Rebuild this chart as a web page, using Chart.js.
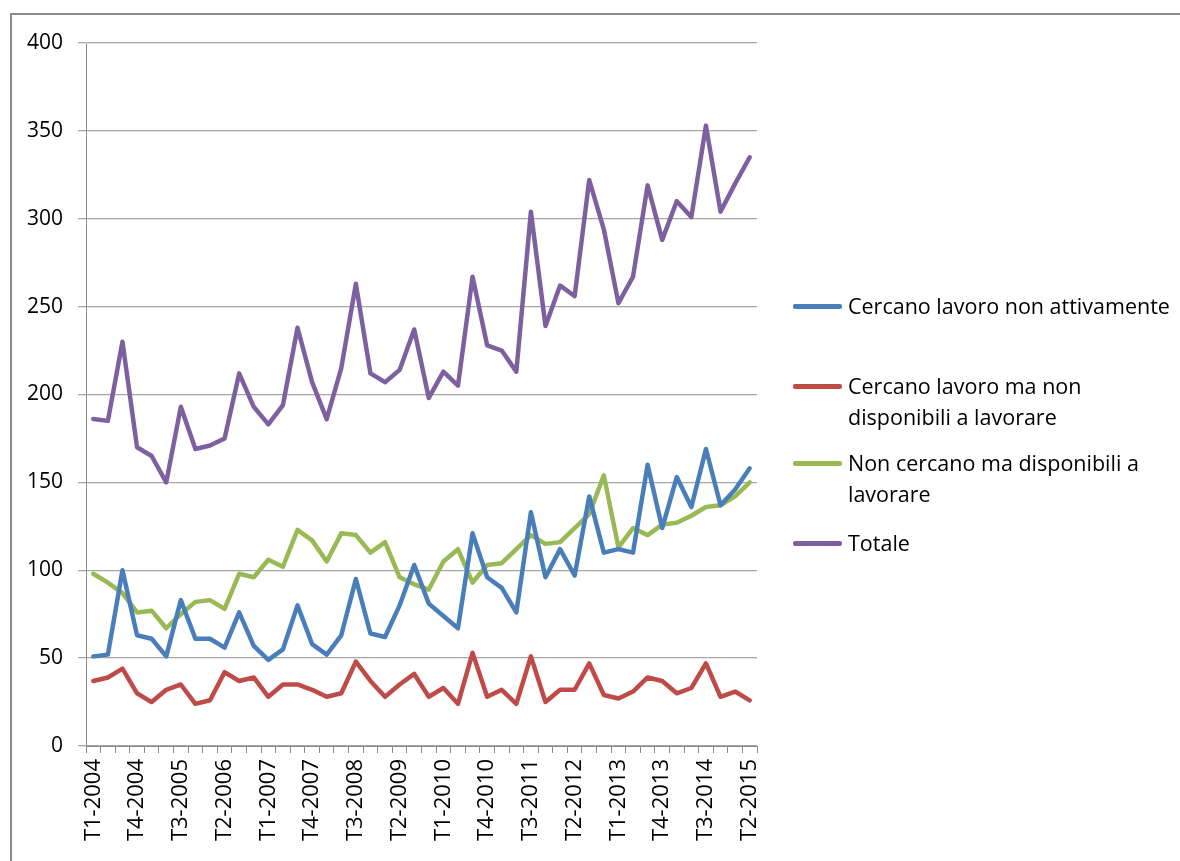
<!DOCTYPE html>
<html lang="it">
<head>
<meta charset="utf-8">
<title>Inattivi disponibili</title>
<script src="https://cdn.jsdelivr.net/npm/chart.js@4.4.1/dist/chart.umd.min.js"></script>
<style>
  html, body { margin: 0; padding: 0; background: #fff; overflow: hidden; }
  body { width: 1180px; height: 861px; position: relative; font-family: 'Open Sans', sans-serif; }
  .frame { position: absolute; left: 10px; top: 13px; width: 1200px; height: 900px; border: 2px solid #8c8c8c; box-sizing: border-box; }
  .chart-box { position: absolute; left: 0; top: 0; width: 1180px; height: 861px; }
  .legend { position: absolute; left: 793px; top: 0; }
  .legend-item { position: absolute; left: 0; width: 385px; }
  .legend-item .swatch { position: absolute; left: 0; top: 13px; width: 49px; height: 4.5px; border-radius: 2px; }
  .legend-item .text { position: absolute; left: 55px; top: 0; font-size: 21.5px; line-height: 30.5px; color: #000; white-space: nowrap; }
</style>
</head>
<body>
<div class="frame"></div>
<div class="chart-box"><canvas id="myChart" width="1180" height="861"></canvas></div>
<div class="legend" id="legend"></div>
<script>
// quarters T1-2004 .. T2-2015
const quarters = [
  'T1-2004','T2-2004','T3-2004','T4-2004',
  'T1-2005','T2-2005','T3-2005','T4-2005',
  'T1-2006','T2-2006','T3-2006','T4-2006',
  'T1-2007','T2-2007','T3-2007','T4-2007',
  'T1-2008','T2-2008','T3-2008','T4-2008',
  'T1-2009','T2-2009','T3-2009','T4-2009',
  'T1-2010','T2-2010','T3-2010','T4-2010',
  'T1-2011','T2-2011','T3-2011','T4-2011',
  'T1-2012','T2-2012','T3-2012','T4-2012',
  'T1-2013','T2-2013','T3-2013','T4-2013',
  'T1-2014','T2-2014','T3-2014','T4-2014',
  'T1-2015','T2-2015'
];

const seriesNames = [
  ['Cercano lavoro non attivamente'],
  ['Cercano lavoro ma non', 'disponibili a lavorare'],
  ['Non cercano ma disponibili a', 'lavorare'],
  ['Totale']
];

const nonAttivamente = [
  51, 52, 100, 63, 61, 51, 83, 61, 61, 56, 76, 57,
  49, 55, 80, 58, 52, 63, 95, 64, 62, 80, 103, 81,
  74, 67, 121, 96, 90, 76, 133, 96, 112, 97, 142, 110,
  112, 110, 160, 124, 153, 136, 169, 137, 146, 158
];

const nonDisponibili = [
  37, 39, 44, 30, 25, 32, 35, 24, 26, 42, 37, 39,
  28, 35, 35, 32, 28, 30, 48, 37, 28, 35, 41, 28,
  33, 24, 53, 28, 32, 24, 51, 25, 32, 32, 47, 29,
  27, 31, 39, 37, 30, 33, 47, 28, 31, 26
];

const nonCercano = [
  98, 93, 87, 76, 77, 67, 75, 82, 83, 78, 98, 96,
  106, 102, 123, 117, 105, 121, 120, 110, 116, 96, 92, 89,
  105, 112, 93, 103, 104, 112, 120, 115, 116, 124, 132, 154,
  113, 124, 120, 126, 127, 131, 136, 137, 142, 150
];

const totale = [
  186, 185, 230, 170, 165, 150, 193, 169, 171, 175, 212, 193,
  183, 194, 238, 207, 186, 215, 263, 212, 207, 214, 237, 198,
  213, 205, 267, 228, 225, 213, 304, 239, 262, 256, 322, 294,
  252, 267, 319, 288, 310, 301, 353, 304, 320, 335
];

const yTicks = [0, 50, 100, 150, 200, 250, 300, 350, 400];

const colors = ['#4a7ebb', '#be4b48', '#98b954', '#7d60a0'];

const ctx = document.getElementById('myChart').getContext('2d');

const series = [nonAttivamente, nonDisponibili, nonCercano, totale];

const chart = new Chart(ctx, {
  type: 'line',
  data: {
    labels: quarters,
    datasets: series.map((values, i) => ({
      label: seriesNames[i].join(' '),
      data: values,
      borderColor: colors[i],
      backgroundColor: colors[i],
      borderWidth: 4.5,
      pointRadius: 0,
      tension: 0,
      borderCapStyle: 'round',
      borderJoinStyle: 'round'
    }))
  },
  options: {
    responsive: false,
    animation: false,
    events: [],
    layout: { padding: { left: 0, right: 423, top: 43, bottom: 0 } },
    plugins: {
      legend: { display: false },
      tooltip: { enabled: false }
    },
    scales: {
      x: {
        offset: true,
        border: { color: '#8c8c8c', width: 1 },
        grid: {
          offset: true,
          drawOnChartArea: false,
          drawTicks: true,
          tickLength: 7,
          color: '#8c8c8c'
        },
        ticks: {
          autoSkip: false,
          minRotation: 90,
          maxRotation: 90,
          padding: 6,
          color: '#000',
          font: { family: 'Open Sans', size: 22 },
          callback: (value, index) => index % 3 === 0 ? quarters[index] : ''
        },
        afterFit: scale => { scale.height = 115; }
      },
      y: {
        min: 0,
        max: 400,
        border: { color: '#8c8c8c', width: 1 },
        grid: {
          color: '#a6a6a6',
          lineWidth: 1.3,
          drawTicks: true,
          tickLength: 8
        },
        afterBuildTicks: scale => { scale.ticks = yTicks.map(v => ({ value: v })); },
        ticks: {
          padding: 15,
          color: '#000',
          font: { family: 'Open Sans', size: 21 }
        },
        afterFit: scale => { scale.width = 86; }
      }
    }
  }
});

// legend built from the chart datasets
const legendTops = [291, 371, 448, 528];
const legendEl = document.getElementById('legend');
chart.data.datasets.forEach((ds, i) => {
  const item = document.createElement('div');
  item.className = 'legend-item';
  item.style.top = legendTops[i] + 'px';
  const swatch = document.createElement('div');
  swatch.className = 'swatch';
  swatch.style.background = ds.borderColor;
  const text = document.createElement('div');
  text.className = 'text';
  text.innerHTML = seriesNames[i].join('<br>');
  item.appendChild(swatch);
  item.appendChild(text);
  legendEl.appendChild(item);
});
</script>
</body>
</html>
